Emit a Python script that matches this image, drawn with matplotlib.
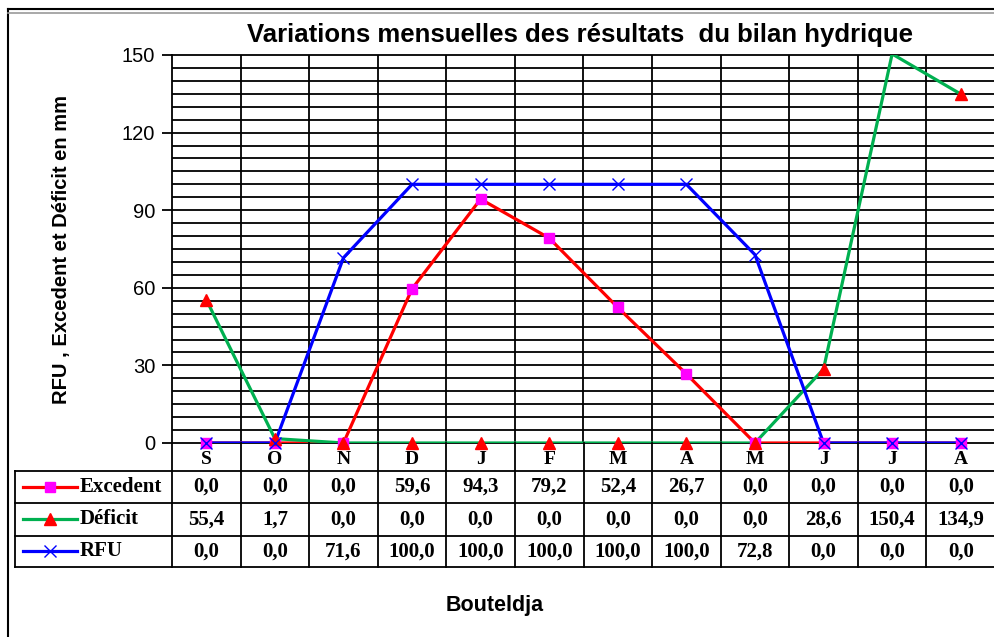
import numpy as np
import matplotlib.pyplot as plt
from matplotlib.lines import Line2D

# data
mois = ['S', 'O', 'N', 'D', 'J', 'F', 'M', 'A', 'M', 'J', 'J', 'A']
excedent = [0.0, 0.0, 0.0, 59.6, 94.3, 79.2, 52.4, 26.7, 0.0, 0.0, 0.0, 0.0]
deficit = [55.4, 1.7, 0.0, 0.0, 0.0, 0.0, 0.0, 0.0, 0.0, 28.6, 150.4, 134.9]
rfu = [0.0, 0.0, 71.6, 100.0, 100.0, 100.0, 100.0, 100.0, 72.8, 0.0, 0.0, 0.0]
yticks = [0, 30, 60, 90, 120, 150]

W, H = 995, 637
fig = plt.figure(figsize=(W / 100, H / 100), dpi=100)
fig.patch.set_facecolor('white')

def fbox(x0, y0, x1, y1):
    # pixel box (top-left origin) -> figure rect
    return [x0 / W, 1 - y1 / H, (x1 - x0) / W, (y1 - y0) / H]

# outer frame (double line on top)
fig.add_artist(Line2D([8 / W, 8 / W], [0, 1 - 9 / H], color='black', lw=1.5))
fig.add_artist(Line2D([8 / W, 1], [1 - 9 / H, 1 - 9 / H], color='black', lw=1.5))
fig.add_artist(Line2D([8 / W, 1], [1 - 13 / H, 1 - 13 / H], color='#999999', lw=1.2))

series = [
    ('Excedent', excedent, dict(color='red', marker='s', mfc='magenta', mec='magenta', ms=7)),
    ('Déficit', deficit, dict(color='#00b050', marker='^', mfc='red', mec='red', ms=8)),
    ('RFU', rfu, dict(color='blue', marker='x', mfc='blue', mec='blue', ms=8, mew=1.0)),
]
ymax = 150

x = np.arange(len(mois))
ax = fig.add_axes(fbox(172, 55, 995, 443))
ax.set_xlim(-0.5, len(mois) - 0.5)
ax.set_ylim(0, ymax)
for v in np.arange(5, ymax, 5):
    ax.axhline(v, color='black', lw=1.3, zorder=1)
for k in range(1, len(mois)):
    ax.axvline(k - 0.5, color='black', lw=1.3, zorder=1)
for name, vals, st in series:
    mk = {k: v for k, v in st.items() if k != 'color'}
    ax.plot(x, vals, color=st['color'], lw=2.3, zorder=3)
    vv = np.array(vals)
    ok = vv <= ymax
    ax.plot(x[ok], vv[ok], ls='none', zorder=4, clip_on=False, **mk)
ax.set_yticks(yticks)
ax.set_yticklabels([str(t) for t in yticks], fontsize=14.5, family='Liberation Sans')
ax.tick_params(axis='y', direction='out', length=7, width=1.3, pad=5)
ax.set_xticks([])
for s in ax.spines.values():
    s.set_linewidth(1.3)

# data table under the plot
left_x = -0.5 - (172 - 15) / (823 / len(mois))
tb = fig.add_axes(fbox(15, 443, 995, 568))
tb.set_xlim(left_x, len(mois) - 0.5)
tb.set_ylim(568, 443)
tb.axis('off')
rows_y = [471, 503, 536, 567]
for yy in rows_y:
    tb.plot([left_x, len(mois) - 0.5], [yy, yy], color='black', lw=1.3, clip_on=False)
tb.plot([left_x, left_x], [471, 567], color='black', lw=1.3, clip_on=False)
for k in range(0, len(mois) + 1):
    tb.plot([k - 0.5, k - 0.5], [443, 567], color='black', lw=1.3, clip_on=False)
for i, m in enumerate(mois):
    tb.text(i, 460, m, ha='center', va='center', fontsize=14, fontweight='bold',
            family='Liberation Serif')
px = (823 / len(mois))
for r, (name, vals, st) in enumerate(series):
    yc = (rows_y[r] + rows_y[r + 1]) / 2
    x0 = left_x + (23 - 15) / px
    x1 = left_x + (77 - 15) / px
    tb.plot([x0, x1], [yc, yc], color=st['color'], lw=2.3, clip_on=False)
    mk = {k: v for k, v in st.items() if k != 'color'}
    tb.plot([(x0 + x1) / 2], [yc], ls='none', clip_on=False, **mk)
    tb.text(left_x + (80 - 15) / px, yc, name, ha='left', va='center', fontsize=15,
            fontweight='bold', family='Liberation Serif')
    for i, v in enumerate(vals):
        tb.text(i, yc, f'{v:.1f}'.replace('.', ','), ha='center', va='center',
                fontsize=15, fontweight='bold', family='Liberation Serif')

fig.text(580 / W, 1 - 35 / H, 'Variations mensuelles des résultats  du bilan hydrique',
         ha='center', va='center', fontsize=18.5, fontweight='bold', family='Liberation Sans')
fig.text(62 / W, 1 - 250 / H, 'RFU , Excedent et Déficit en mm', rotation=90,
         ha='center', va='center', fontsize=14.5, fontweight='bold', family='Liberation Sans')
fig.text(495 / W, 1 - 605 / H, 'Bouteldja', ha='center', va='center', fontsize=15.5,
         fontweight='bold', family='Liberation Sans')

fig.savefig('out.png', dpi=100)
